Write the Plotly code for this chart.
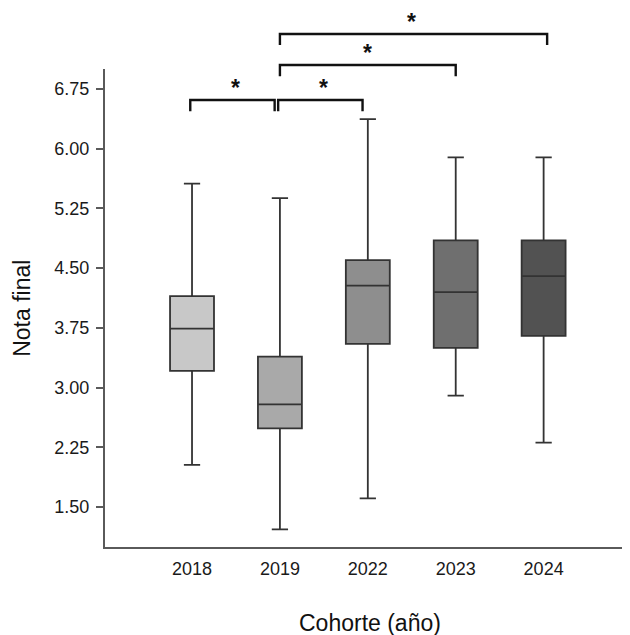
import plotly.graph_objects as go

# ---- data ----
cohorts = ["2018", "2019", "2022", "2023", "2024"]
lower_whisker = [2.03, 1.22, 1.61, 2.90, 2.31]
q1 = [3.21, 2.49, 3.55, 3.50, 3.65]
median = [3.74, 2.79, 4.28, 4.20, 4.40]
q3 = [4.15, 3.39, 4.60, 4.85, 4.85]
upper_whisker = [5.56, 5.38, 6.37, 5.89, 5.89]
y_ticks = [1.50, 2.25, 3.00, 3.75, 4.50, 5.25, 6.00, 6.75]
comparisons = [("2018", "2019"), ("2019", "2022"), ("2019", "2023"), ("2019", "2024")]
comparison_labels = ["*", "*", "*", "*"]
x_title = "Cohorte (año)"
y_title = "Nota final"

# ---- styling ----
fills = ["#c8c8c8", "#a9a9a9", "#8e8e8e", "#6f6f6f", "#525252"]
FONT = "Liberation Sans, Arial, Helvetica, sans-serif"
X_RANGE = [-0.99, 4.96]
Y_RANGE = [1.0, 7.0]
bracket_levels = [6.61, 6.61, 7.05, 7.44]
bracket_insets = [(-0.02, -0.06), (-0.02, -0.06), (0.0, 0.0), (0.0, 0.04)]
TIP = 0.14
STAR_GAP = 0.15

fig = go.Figure()
for i, c in enumerate(cohorts):
    fig.add_trace(go.Box(
        x=[c], q1=[q1[i]], median=[median[i]], q3=[q3[i]],
        lowerfence=[lower_whisker[i]], upperfence=[upper_whisker[i]],
        fillcolor=fills[i],
        line=dict(color="#333333", width=1.8),
        width=0.5, whiskerwidth=0.37,
        boxpoints=False, showlegend=False, hoverinfo="skip",
    ))


def xp(v):
    return (v - X_RANGE[0]) / (X_RANGE[1] - X_RANGE[0])


def yp(v):
    return (v - Y_RANGE[0]) / (Y_RANGE[1] - Y_RANGE[0])


shapes = []
annotations = []
for k, (a, b) in enumerate(comparisons):
    ia, ib = cohorts.index(a), cohorts.index(b)
    x0 = xp(ia + bracket_insets[k][0])
    x1 = xp(ib + bracket_insets[k][1])
    lv = bracket_levels[k]
    y_top = yp(lv)
    y_tip = yp(lv - TIP)
    shapes.append(dict(
        type="path", xref="paper", yref="paper",
        path=f"M {x0},{y_tip} L {x0},{y_top} L {x1},{y_top} L {x1},{y_tip}",
        line=dict(color="#111111", width=2.4),
    ))
    annotations.append(dict(
        x=(ia + ib) / 2, xref="x", y=yp(lv + STAR_GAP), yref="paper",
        text="<b>" + comparison_labels[k] + "</b>", showarrow=False,
        font=dict(family=FONT, size=23, color="#111111"),
        xanchor="center", yanchor="middle",
    ))

# axis titles as annotations (placed in paper space)
annotations.append(dict(
    x=0.506, y=-0.159, xref="paper", yref="paper", text=x_title, showarrow=False,
    font=dict(family=FONT, size=23, color="#111111"), xanchor="center", yanchor="middle",
))
annotations.append(dict(
    x=-0.159, y=0.5, xref="paper", yref="paper", text=y_title, showarrow=False,
    textangle=-90,
    font=dict(family=FONT, size=23, color="#111111"), xanchor="center", yanchor="middle",
))

fig.update_layout(
    width=622, height=627,
    margin=dict(l=97, r=2, t=61, b=88),
    paper_bgcolor="white", plot_bgcolor="white",
    font=dict(family=FONT, size=18, color="#1a1a1a"),
    shapes=shapes, annotations=annotations,
    xaxis=dict(
        type="category", range=X_RANGE, automargin=False,
        showline=True, linecolor="#5a5a5a", linewidth=2,
        ticks="", showgrid=False, zeroline=False,
        tickfont=dict(size=18, color="#1a1a1a"), ticklabelstandoff=4,
    ),
    yaxis=dict(
        range=Y_RANGE, tickvals=y_ticks, tickformat=".2f", automargin=False,
        showline=True, linecolor="#5a5a5a", linewidth=2,
        ticks="outside", ticklen=7, tickwidth=1.5, tickcolor="#5a5a5a",
        showgrid=False, zeroline=False,
        tickfont=dict(size=18, color="#1a1a1a"), ticklabelstandoff=3,
    ),
)

fig.write_html("out.html")
